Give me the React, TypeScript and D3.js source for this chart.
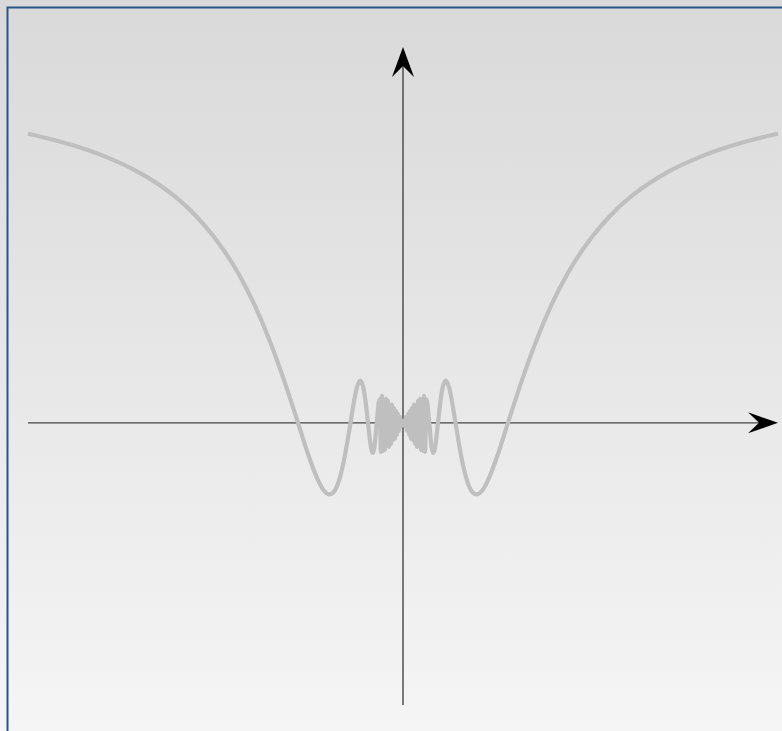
import React, { useEffect, useRef } from 'react';
import * as d3 from 'd3';

// curve, right half (the left half is its mirror image)
const curveX = [
  1.136, 1.1, 1.0, 0.9, 0.8, 0.7, 0.65, 0.6, 0.55, 0.5, 0.45, 0.4, 0.36, 0.318,
  0.29, 0.26, 0.24, 0.2225, 0.21, 0.2, 0.18, 0.17, 0.159, 0.15, 0.14, 0.1294,
  0.12, 0.113, 0.106, 0.1, 0.095, 0.0917, 0.087, 0.0796, 0.0711,
  0.0667, 0.0636, 0.0606, 0.0576, 0.0545, 0.0515, 0.0485, 0.0455, 0.0424, 0.0394,
  0.0364, 0.0333, 0.0303, 0.0273, 0.0242, 0.0212, 0.0182, 0.0152, 0.0121, 0.0091,
  0.0061, 0.003
];
const curveY = [
  0.876, 0.868, 0.841, 0.806, 0.759, 0.693, 0.65, 0.597, 0.533, 0.455, 0.358, 0.239, 0.128, 0,
  -0.0875, -0.168, -0.205, -0.217, -0.21, -0.192, -0.1195, -0.066, 0, 0.056, 0.106, 0.128,
  0.1065, 0.0614, 0, -0.0544, -0.0847, -0.0913, -0.0764, 0, 0.071,
  -0.088, 0.082, -0.085, 0.067, -0.082, 0.073, -0.061, 0.067, -0.073, 0.052,
  -0.064, 0.055, -0.052, 0.045, -0.048, 0.036, -0.036, 0.027, -0.024, 0.018,
  -0.012, 0.006
];

const xDomain = [-1.136, 1.136];
const yDomain = [-0.855, 1.139];

const App = () => {
  const ref = useRef<SVGSVGElement>(null);

  useEffect(() => {
    const width = 782;
    const height = 731;
    const svg = d3.select(ref.current);
    svg.selectAll('*').remove();

    const defs = svg.append('defs');
    const grad = defs
      .append('linearGradient')
      .attr('id', 'bg')
      .attr('x1', 0)
      .attr('y1', 0)
      .attr('x2', 0)
      .attr('y2', 1);
    grad.append('stop').attr('offset', '0%').attr('stop-color', '#d9d9d9');
    grad.append('stop').attr('offset', '100%').attr('stop-color', '#f5f5f5');

    svg.append('rect').attr('width', width).attr('height', height).attr('fill', 'url(#bg)');
    svg
      .append('rect')
      .attr('x', 7.5)
      .attr('y', 7.5)
      .attr('width', width + 20)
      .attr('height', height + 20)
      .attr('fill', 'none')
      .attr('stroke', '#2a5488')
      .attr('stroke-width', 2);

    const x = d3.scaleLinear().domain(xDomain).range([28, 778]);
    const y = d3.scaleLinear().domain(yDomain).range([705, 47]);

    // axes
    const axisColor = '#444';
    svg
      .append('line')
      .attr('x1', x(xDomain[0]))
      .attr('x2', x(xDomain[1]) - 12)
      .attr('y1', y(0))
      .attr('y2', y(0))
      .attr('stroke', axisColor)
      .attr('stroke-width', 1.4);
    svg
      .append('line')
      .attr('x1', x(0))
      .attr('x2', x(0))
      .attr('y1', y(yDomain[0]))
      .attr('y2', y(yDomain[1]) + 12)
      .attr('stroke', axisColor)
      .attr('stroke-width', 1.4);

    const hx = x(xDomain[1]);
    const hy = y(0);
    svg
      .append('path')
      .attr('d', `M${hx},${hy}L${hx - 30},${hy - 10.5}L${hx - 19},${hy}L${hx - 30},${hy + 10.5}Z`)
      .attr('fill', '#000');
    const vx = x(0);
    const vy = y(yDomain[1]);
    svg
      .append('path')
      .attr('d', `M${vx},${vy}L${vx - 11},${vy + 30}L${vx},${vy + 19}L${vx + 11},${vy + 30}Z`)
      .attr('fill', '#000');

    // curve: mirror the right half to get the left half
    const right = curveX.map((cx, i) => [cx, curveY[i]] as [number, number]);
    const left = right.map(([cx, cy]) => [-cx, cy] as [number, number]);
    const points = [...left, [0, 0] as [number, number], ...right.slice().reverse()];

    const line = d3
      .line<[number, number]>()
      .x((d) => x(d[0]))
      .y((d) => y(d[1]))
      .curve(d3.curveMonotoneX);

    svg
      .append('path')
      .datum(points)
      .attr('d', line)
      .attr('fill', 'none')
      .attr('stroke', '#bfbfbf')
      .attr('stroke-width', 4.2)
      .attr('stroke-linejoin', 'round');
  }, []);

  return (
    <svg
      ref={ref}
      width={782}
      height={731}
      style={{ position: 'absolute', left: 0, top: 0, display: 'block' }}
    />
  );
};

export default App;
